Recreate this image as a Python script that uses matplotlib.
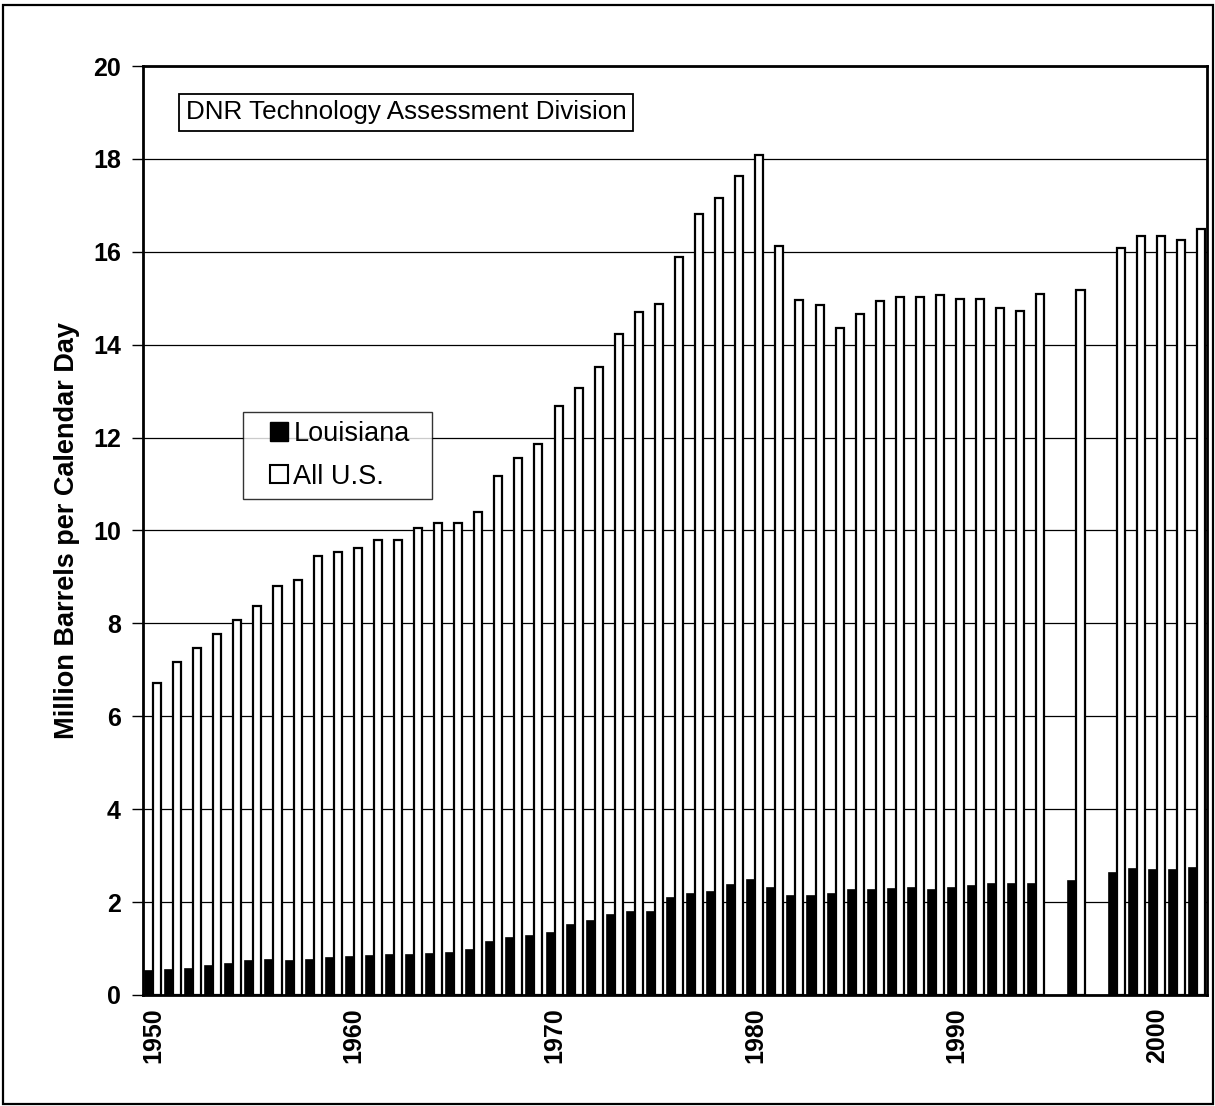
import matplotlib
matplotlib.use("Agg")
import matplotlib.pyplot as plt
from matplotlib.patches import Patch, Rectangle
from matplotlib.legend_handler import HandlerPatch
import numpy as np

plt.rcParams['font.family'] = ['Liberation Sans', 'DejaVu Sans']

years = [1950, 1951, 1952, 1953, 1954, 1955, 1956, 1957, 1958, 1959,
         1960, 1961, 1962, 1963, 1964, 1965, 1966, 1967, 1968, 1969,
         1970, 1971, 1972, 1973, 1974, 1975, 1976, 1977, 1978, 1979,
         1980, 1981, 1982, 1983, 1984, 1985, 1986, 1987, 1988, 1989,
         1990, 1991, 1992, 1993, 1994, 1996, 1998, 1999, 2000, 2001, 2002]

louisiana = [0.52, 0.53, 0.56, 0.62, 0.67, 0.73, 0.76, 0.73, 0.76, 0.79,
             0.81, 0.84, 0.85, 0.85, 0.89, 0.90, 0.96, 1.13, 1.22, 1.28,
             1.33, 1.51, 1.59, 1.72, 1.79, 1.79, 2.09, 2.17, 2.22, 2.37,
             2.48, 2.31, 2.14, 2.12, 2.18, 2.25, 2.27, 2.29, 2.31, 2.27,
             2.31, 2.34, 2.39, 2.39, 2.39, 2.45, 2.63, 2.71, 2.70, 2.68, 2.74]

all_us = [6.72, 7.17, 7.48, 7.78, 8.07, 8.38, 8.81, 8.93, 9.45, 9.54,
          9.62, 9.80, 9.80, 10.06, 10.16, 10.17, 10.40, 11.17, 11.57, 11.87,
          12.67, 13.06, 13.51, 14.24, 14.71, 14.88, 15.88, 16.81, 17.16, 17.63,
          18.08, 16.12, 14.97, 14.85, 14.37, 14.67, 14.95, 15.03, 15.03, 15.08,
          14.98, 14.98, 14.80, 14.72, 15.10, 15.18, 16.09, 16.33, 16.33, 16.26, 16.50]

xtick_years = [1950, 1960, 1970, 1980, 1990, 2000]
ytick_vals = [0, 2, 4, 6, 8, 10, 12, 14, 16, 18, 20]

fig = plt.figure(figsize=(12.15, 11.06), dpi=100)
ax = fig.add_axes([0.1177, 0.1004, 0.8757, 0.8399])

x = np.array(years, dtype=float)
w = 0.4
ax.bar(x - w / 2, louisiana, width=w, color='black', edgecolor='black', linewidth=1.2, zorder=3)
ax.bar(x + w / 2, all_us, width=w, color='white', edgecolor='black', linewidth=1.6, zorder=3)

ax.set_xlim(1949.5, 2002.5)
ax.set_ylim(0, 20)
ax.set_yticks(ytick_vals)
ax.set_yticklabels([str(v) for v in ytick_vals], fontsize=18, fontweight='bold')
ax.set_xticks(xtick_years)
ax.set_xticklabels([str(v) for v in xtick_years], fontsize=18, fontweight='bold', rotation=90)
ax.tick_params(axis='y', direction='out', length=8, width=1, pad=8)
ax.tick_params(axis='x', length=0, pad=9)

ax.yaxis.grid(True, color='black', linewidth=0.9)
ax.set_axisbelow(True)
for s in ax.spines.values():
    s.set_linewidth(2)
    s.set_color('black')

ax.set_ylabel('Million Barrels per Calendar Day', fontsize=19.5, fontweight='bold')
ax.yaxis.set_label_coords(-0.059, 0.5)

ax.text(0.04, 0.9505, 'DNR Technology Assessment Division', transform=ax.transAxes,
        fontsize=18.7, va='center', ha='left', zorder=5,
        bbox=dict(boxstyle='square,pad=0.25', facecolor='white', edgecolor='black', linewidth=1.3))


def square_right(legend, orig_handle, xdescent, ydescent, width, height, fontsize):
    s = 0.68 * fontsize
    return Rectangle((-xdescent + width - s, -ydescent + (height - s) / 2), s, s)


handles = [Patch(facecolor='black', edgecolor='black', label='Louisiana'),
           Patch(facecolor='white', edgecolor='black', linewidth=1.5, label='All U.S.')]
leg = ax.legend(handles=handles, loc='upper left', bbox_to_anchor=(0.094, 0.6276, 0.1776, 0.0),
                mode='expand', borderaxespad=0, fontsize=19.5, frameon=True, fancybox=False,
                shadow=False, handlelength=1.33, handleheight=0.7, handletextpad=0.2,
                borderpad=0.33, labelspacing=0.62,
                handler_map={Patch: HandlerPatch(patch_func=square_right)})
leg.get_frame().set_edgecolor('black')
leg.get_frame().set_linewidth(1.0)
leg.set_zorder(6)

fig.patches.append(Rectangle((0.0025, 0.0018), 0.996, 0.9937, transform=fig.transFigure,
                             fill=False, edgecolor='black', linewidth=1.6))

fig.savefig('out.png', dpi=100)
